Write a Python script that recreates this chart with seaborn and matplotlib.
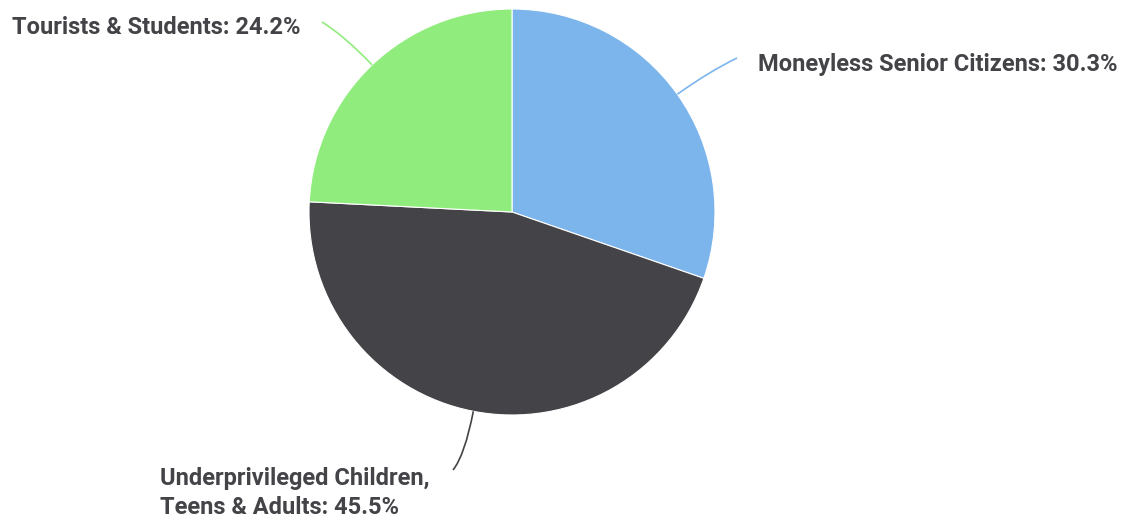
import matplotlib
matplotlib.use("Agg")
import matplotlib.pyplot as plt
import seaborn as sns
import numpy as np
from matplotlib.path import Path
from matplotlib.patches import PathPatch

categories = ["Moneyless Senior Citizens", "Underprivileged Children,\nTeens & Adults", "Tourists & Students"]
values = [30.3, 45.5, 24.2]
colors = ["#7cb5ec", "#434348", "#90ed7d"]

sns.set_theme(style="white")
plt.rcParams['font.family'] = ['Roboto', 'DejaVu Sans']

W, H = 1132, 520
fig = plt.figure(figsize=(W / 100, H / 100), dpi=100)
ax = fig.add_axes([0, 0, 1, 1])

cx, cy_pix, r = 512, 212, 203
cy = H - cy_pix
ax.pie(values, colors=colors, startangle=90, counterclock=False,
       center=(cx, cy), radius=r, frame=True,
       wedgeprops=dict(edgecolor="white", linewidth=0.8))
ax.set_xlim(0, W)
ax.set_ylim(0, H)
ax.set_aspect("equal")
ax.axis("off")

label_specs = [
    dict(end=(737, 58), ext=40, text=(758, 65), ha="left"),
    dict(end=(453, 470), ext=45, text=(160, 493), ha="left"),
    dict(end=(322, 22), ext=40, text=(12, 27), ha="left"),
]

total = sum(values)
cum = 0.0
for cat, val, col, spec in zip(categories, values, colors, label_specs):
    mid = (cum + val / 2) / total * 2 * np.pi
    cum += val
    sx, sy = np.sin(mid), np.cos(mid)
    p0 = (cx + r * sx, cy + r * sy)
    p1 = (cx + (r + spec["ext"]) * sx, cy + (r + spec["ext"]) * sy)
    p2 = (spec["end"][0], H - spec["end"][1])
    path = Path([p0, p1, p2], [Path.MOVETO, Path.CURVE3, Path.CURVE3])
    ax.add_patch(PathPatch(path, facecolor="none", edgecolor=col, lw=1.2))
    ax.text(spec["text"][0], H - spec["text"][1], f"{cat}: {val:.1f}%",
            ha=spec["ha"], va="center", fontsize=17, fontweight="bold",
            color="#434348", linespacing=1.3)

fig.savefig("out.png", dpi=100)
